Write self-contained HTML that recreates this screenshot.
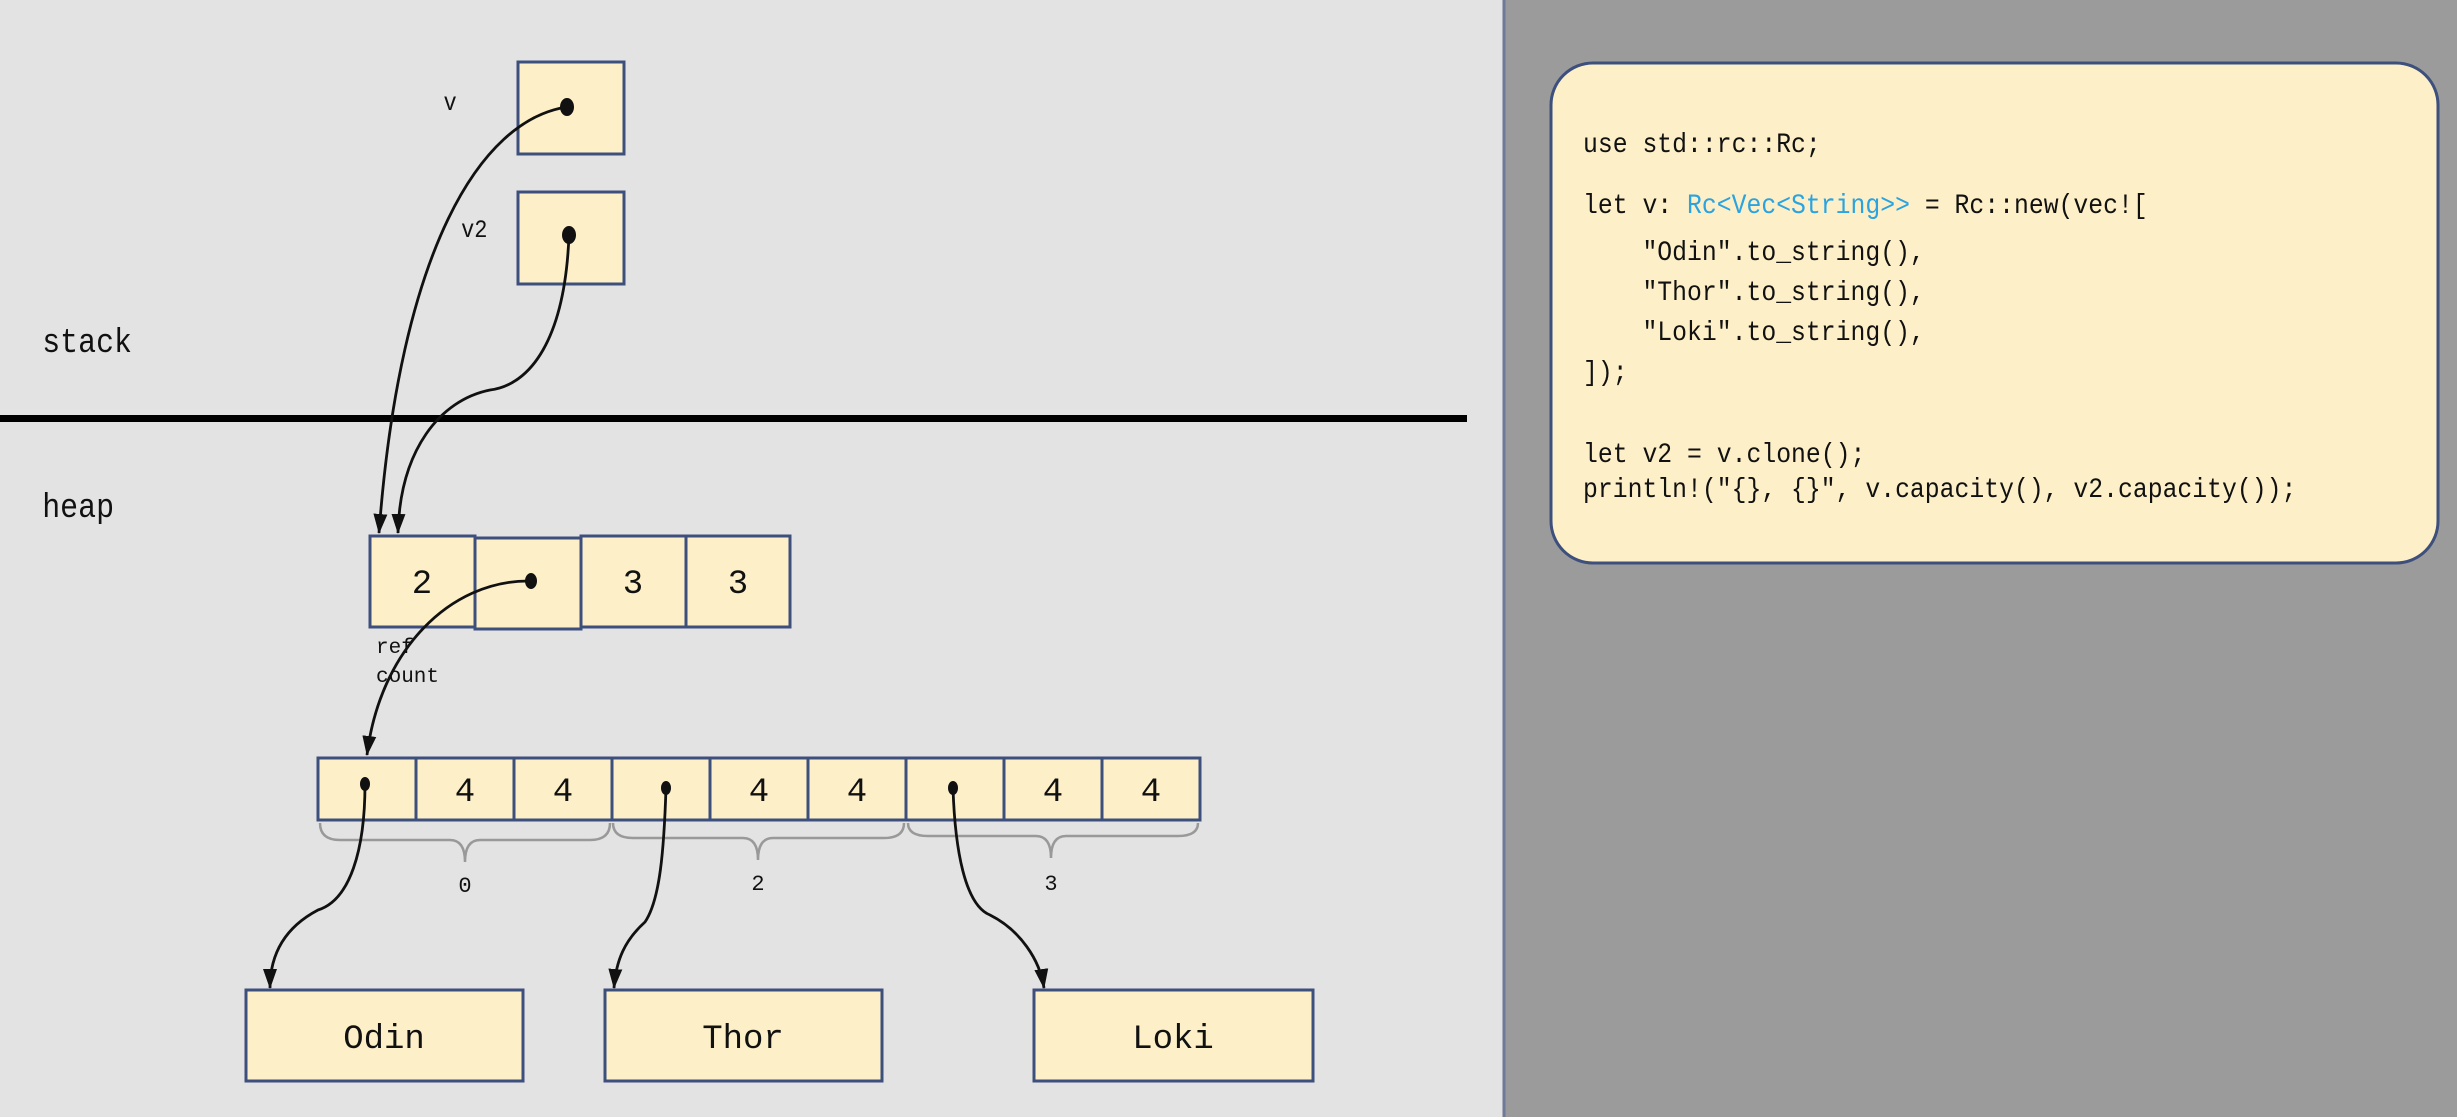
<!DOCTYPE html>
<html><head><meta charset="utf-8"><style>
html,body{margin:0;padding:0;width:2457px;height:1117px;overflow:hidden;background:#e3e3e3}
svg{display:block}
text{font-family:"Liberation Mono","DejaVu Sans Mono",monospace;fill:#111;white-space:pre}
</style></head><body>
<svg width="2457" height="1117" viewBox="0 0 2457 1117" xmlns="http://www.w3.org/2000/svg">
<defs>
<marker id="ah" markerWidth="20" markerHeight="14" refX="19" refY="7" orient="auto" markerUnits="userSpaceOnUse" viewBox="0 0 20 14">
<path d="M0,0 L20,7 L0,14 Z" fill="#111"/>
</marker>
</defs>
<rect x="0" y="0" width="1504" height="1117" fill="#e3e3e3"/>
<rect x="1504" y="0" width="953" height="1117" fill="#9b9b9b"/>
<line x1="1504" y1="0" x2="1504" y2="1117" stroke="#6f7a99" stroke-width="3"/>
<rect x="0" y="415" width="1467" height="7" fill="#000"/>
<g transform="scale(0.88,1)">
<text x="48" y="352" font-size="34">stack</text>
<text x="48" y="517" font-size="34">heap</text>
<text x="504" y="110" font-size="25">v</text>
<text x="524" y="237" font-size="25">v2</text>
</g>
<g fill="#fdf0c8" stroke="#3d4f7c" stroke-width="3">
<rect x="518" y="62" width="106" height="92"/>
<rect x="518" y="192" width="106" height="92"/>
<rect x="370" y="536" width="105" height="91"/>
<rect x="475" y="538" width="106" height="91"/>
<rect x="581" y="536" width="105" height="91"/>
<rect x="686" y="536" width="104" height="91"/>
<rect x="318" y="758" width="98" height="62"/>
<rect x="416" y="758" width="98" height="62"/>
<rect x="514" y="758" width="98" height="62"/>
<rect x="612" y="758" width="98" height="62"/>
<rect x="710" y="758" width="98" height="62"/>
<rect x="808" y="758" width="98" height="62"/>
<rect x="906" y="758" width="98" height="62"/>
<rect x="1004" y="758" width="98" height="62"/>
<rect x="1102" y="758" width="98" height="62"/>
<rect x="246" y="990" width="277" height="91"/>
<rect x="605" y="990" width="277" height="91"/>
<rect x="1034" y="990" width="279" height="91"/>
</g>
<g font-size="34" text-anchor="middle">
<text x="422" y="593">2</text>
<text x="633" y="593">3</text>
<text x="738" y="593">3</text>
<text x="465" y="801">4</text><text x="563" y="801">4</text>
<text x="759" y="801">4</text><text x="857" y="801">4</text>
<text x="1053" y="801">4</text><text x="1151" y="801">4</text>
<text x="384" y="1048">Odin</text>
<text x="743" y="1048">Thor</text>
<text x="1173" y="1048">Loki</text>
</g>
<text x="376" y="653" font-size="21">ref</text>
<text x="376" y="682" font-size="21">count</text>
<g fill="none" stroke="#999" stroke-width="2.5">
<path d="M320,823 Q320,840 340,840 L450,840 Q465,840 465,862 Q465,840 480,840 L590,840 Q610,840 610,823"/>
<path d="M613,823 Q613,838 633,838 L743,838 Q758,838 758,860 Q758,838 773,838 L884,838 Q904,838 904,823"/>
<path d="M908,823 Q908,836 928,836 L1036,836 Q1051,836 1051,858 Q1051,836 1066,836 L1178,836 Q1198,836 1198,823"/>
</g>
<g font-size="22" text-anchor="middle">
<text x="465" y="892">0</text>
<text x="758" y="890">2</text>
<text x="1051" y="890">3</text>
</g>
<g fill="none" stroke="#111" stroke-width="2.8">
<path d="M567,107 C480,120 400,250 379,533" marker-end="url(#ah)"/>
<path d="M569,235 C565,340 530,385 490,390 C440,400 400,450 398,533" marker-end="url(#ah)"/>
<path d="M530,581 C450,580 380,650 367,755" marker-end="url(#ah)"/>
<path d="M365,784 C365,850 350,900 318,910 C280,930 270,960 270,988" marker-end="url(#ah)"/>
<path d="M666,788 C664,850 660,900 645,922 C625,940 616,960 614,988" marker-end="url(#ah)"/>
<path d="M953,788 C955,850 965,905 990,915 C1020,930 1040,960 1044,988" marker-end="url(#ah)"/>
</g>
<g fill="#111">
<ellipse cx="567" cy="107" rx="7" ry="9"/>
<ellipse cx="569" cy="235" rx="7" ry="9"/>
<ellipse cx="531" cy="581" rx="6" ry="8"/>
<ellipse cx="365" cy="784" rx="5" ry="7"/>
<ellipse cx="666" cy="788" rx="5" ry="7"/>
<ellipse cx="953" cy="788" rx="5" ry="7"/>
</g>
<rect x="1551" y="63" width="887" height="500" rx="42" ry="42" fill="#fdf0c8" stroke="#3d4f7c" stroke-width="3"/>
<g font-size="28" transform="translate(1583,0) scale(0.885,1)">
<text x="0" y="152">use std::rc::Rc;</text>
<text x="0" y="213">let v: <tspan fill="#2aa3e0">Rc&lt;Vec&lt;String&gt;&gt;</tspan> = Rc::new(vec![</text>
<text x="0" y="260">    "Odin".to_string(),</text>
<text x="0" y="300">    "Thor".to_string(),</text>
<text x="0" y="340">    "Loki".to_string(),</text>
<text x="0" y="380">]);</text>
<text x="0" y="462">let v2 = v.clone();</text>
<text x="0" y="497">println!("{}, {}", v.capacity(), v2.capacity());</text>
</g>
</svg>
</body></html>
